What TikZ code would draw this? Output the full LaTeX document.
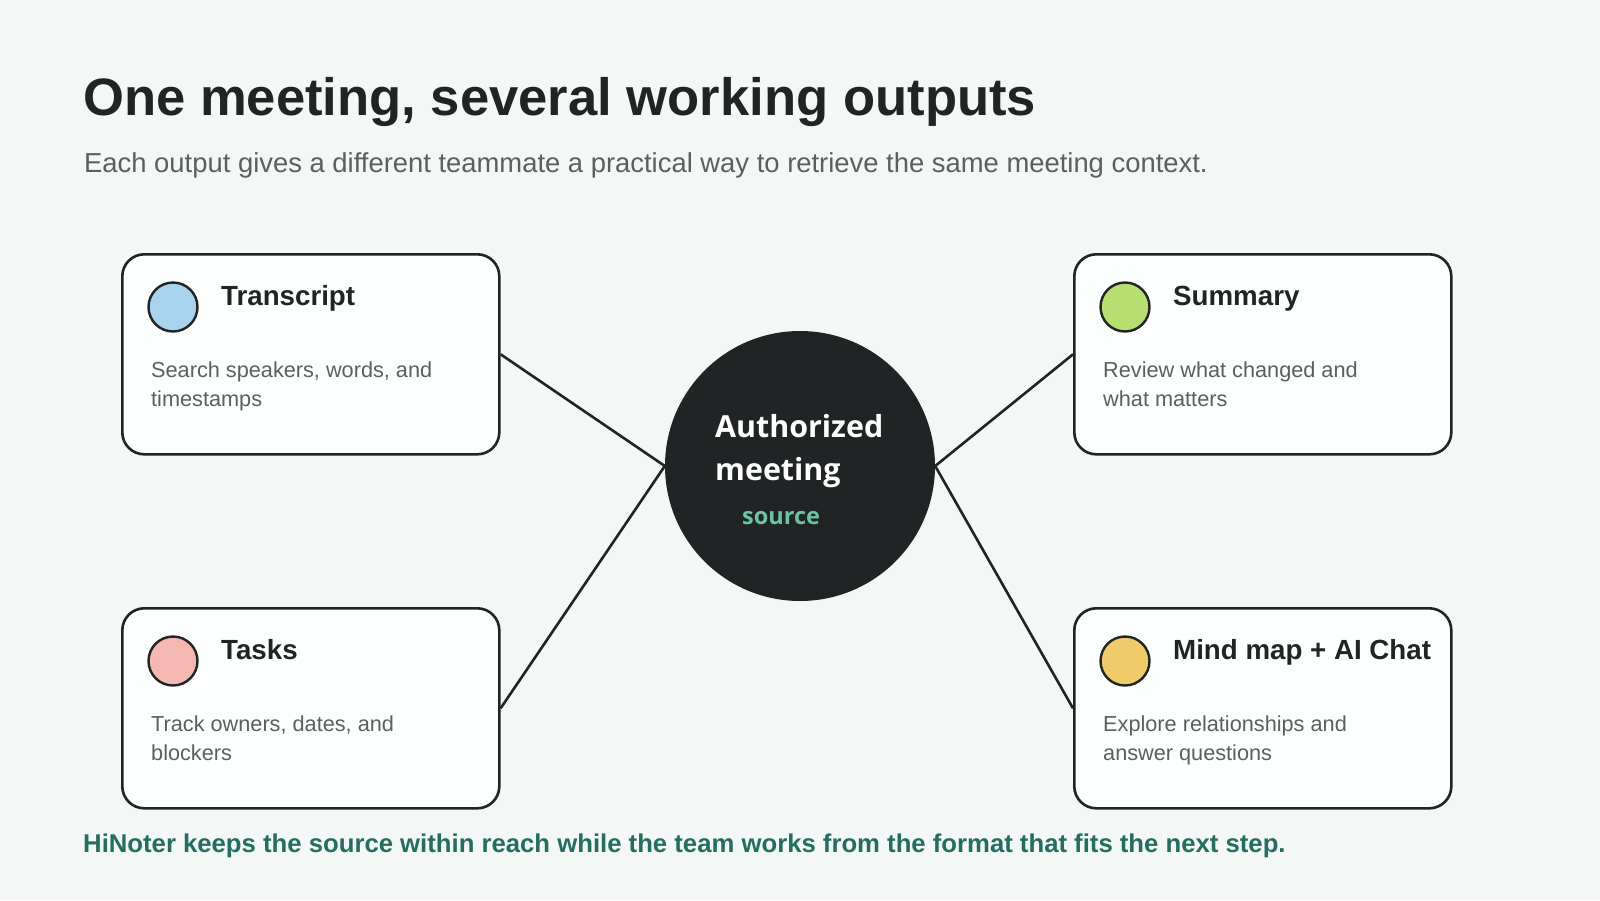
\documentclass[tikz,border=0pt]{standalone}
\usepackage{fontspec}
\setmainfont{Liberation Sans}
\newfontfamily\circfont{Open Sans}
\definecolor{bg}{HTML}{F3F7F6}
\definecolor{ink}{HTML}{202424}
\definecolor{sub}{HTML}{5A5F5F}
\definecolor{cardfill}{HTML}{FDFEFE}
\definecolor{teal}{HTML}{246E60}
\definecolor{srcgreen}{HTML}{6CC4A4}
\definecolor{cblue}{HTML}{A8D3EC}
\definecolor{cgreen}{HTML}{B6DE70}
\definecolor{cpink}{HTML}{F4B8B0}
\definecolor{cyellow}{HTML}{F0CB6A}
\tikzset{
  card/.style={draw=ink, line width=2.6pt, fill=cardfill, rounded corners=22pt},
  dot/.style={circle, draw=ink, line width=2.4pt, minimum size=49pt, inner sep=0pt},
  cardtitle/.style={anchor=base west, inner sep=0pt, text=ink, font=\bfseries\fontsize{27.7}{30}\selectfont},
  carddesc/.style={anchor=base west, inner sep=0pt, text=sub, font=\fontsize{21.7}{29}\selectfont, align=left},
  link/.style={draw=ink, line width=2.6pt},
}
\begin{document}
\begin{tikzpicture}[x=1pt,y=-1pt]
\fill[bg] (0,0) rectangle (1600,900);
\useasboundingbox (0,0) rectangle (1600,900);

\node[anchor=base west, inner sep=0pt, text=ink, font=\bfseries\fontsize{52.6}{60}\selectfont] (title) at (83,115) {One meeting, several working outputs};
\node[anchor=base west, inner sep=0pt, text=sub, font=\fontsize{27.4}{30}\selectfont] (subtitle) at (84,172) {Each output gives a different teammate a practical way to retrieve the same meeting context.};

% cards
\node[card, minimum width=377pt, minimum height=200pt, anchor=north west] (tr) at (121,253) {};
\node[card, minimum width=377pt, minimum height=200pt, anchor=north west] (su) at (1073,253) {};
\node[card, minimum width=377pt, minimum height=200pt, anchor=north west] (ta) at (121,607) {};
\node[card, minimum width=377pt, minimum height=200pt, anchor=north west] (mm) at (1073,607) {};

\node[dot, fill=cblue] (d1) at (173,307) {};
\node[dot, fill=cgreen] (d2) at (1125,307) {};
\node[dot, fill=cpink] (d3) at (173,661) {};
\node[dot, fill=cyellow] (d4) at (1125,661) {};

\node[cardtitle] (t1) at (221,305) {Transcript};
\node[cardtitle] (t2) at (1173,305) {Summary};
\node[cardtitle] (t3) at (221,659) {Tasks};
\node[cardtitle] (t4) at (1173,659) {Mind map + AI Chat};

% base anchor of a two-line node sits on its last line
\node[carddesc] (e1) at (151,406) {Search speakers, words, and\\timestamps};
\node[carddesc] (e2) at (1103,406) {Review what changed and\\what matters};
\node[carddesc] (e3) at (151,760) {Track owners, dates, and\\blockers};
\node[carddesc] (e4) at (1103,760) {Explore relationships and\\answer questions};

% center
\node[circle, fill=ink, minimum size=270pt, inner sep=0pt] (src) at (800,466) {};
\node[anchor=base west, inner sep=0pt, text=white, font=\circfont\bfseries\fontsize{30.4}{43}\selectfont, align=left] (a1) at (715,480) {Authorized\\meeting};
\node[anchor=base west, inner sep=0pt, text=srcgreen, font=\circfont\bfseries\fontsize{23.5}{26}\selectfont] (a2) at (742,524) {source};

% connectors
\draw[link] (tr.east) -- (src.west);
\draw[link] (ta.east) -- (src.west);
\draw[link] (su.west) -- (src.east);
\draw[link] (mm.west) -- (src.east);

\node[anchor=base west, inner sep=0pt, text=teal, font=\bfseries\fontsize{25.7}{30}\selectfont] (foot) at (83,852) {HiNoter keeps the source within reach while the team works from the format that fits the next step.};
\end{tikzpicture}
\end{document}
